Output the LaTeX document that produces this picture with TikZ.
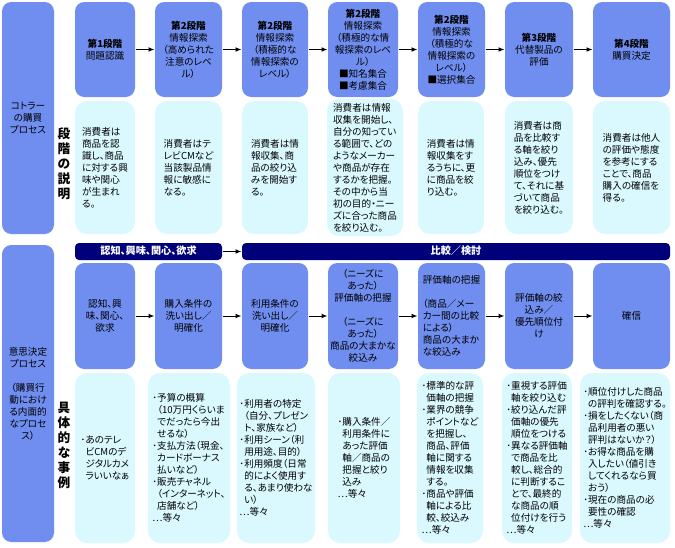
\documentclass[tikz,border=0pt]{standalone}
\usepackage{fontspec}
\setmainfont{Noto Sans CJK JP}[RawFeature=+palt]
\usetikzlibrary{arrows.meta}

\definecolor{stageblue}{RGB}{112,142,240}
\definecolor{desccyan}{RGB}{218,249,255}
\definecolor{bannernavy}{RGB}{0,0,122}

\newcommand\hangin{\hspace*{0.5em}}

\tikzset{every picture/.style={line width=0.75pt}}
\tikzset{
  cell/.style args={#1/#2/#3/#4}{at={({(#1+#3)/2},{(#2+#4)/2})}, minimum width={(#3-#1)*0.75pt}, minimum height={(#4-#2)*0.75pt}},
  stagebox/.style={fill=stageblue, draw=none, rounded corners=7pt, inner sep=0pt, align=center, font=\fontsize{7.2}{9}\selectfont},
  descbox/.style={fill=desccyan, draw=none, rounded corners=9pt, inner sep=0pt, align=left, font=\fontsize{7.2}{9}\selectfont},
  bannerbox/.style={fill=bannernavy, draw=none, rounded corners=3pt, inner sep=0pt, text=white, text height=6pt, text depth=1.4pt, font=\bfseries\fontsize{7.6}{9}\selectfont},
  sidelabel/.style={align=center, inner sep=0pt, font=\bfseries\fontsize{9.5}{11.25}\selectfont},
  flow/.style={-{Latex[length=4.5pt,width=3.6pt]}, line width=0.75pt},
}

\begin{document}
\begin{tikzpicture}[x=0.75pt,y=0.75pt,yscale=-1,xscale=1]
\useasboundingbox (0,0) rectangle (675,547);

%Side boxes
\node [stagebox, cell=2/2/54/234] (k1) {コトラー\\の購買\\プロセス};
\node [stagebox, cell=2/245/54/542] (k2) {意思決定\\プロセス\\[9pt]（購買行\\動におけ\\る内面的\\なプロセ\\ス）};

%Side labels
\node [sidelabel] (l1) at (64,164) {段\\階\\の\\説\\明};
\node [sidelabel] (l2) at (64,445) {具\\体\\的\\な\\事\\例};

%Stage boxes
\node [stagebox, cell=75/2/135/97] (s1) {\textbf{第1段階}\\問題認識};
\node [stagebox, cell=155/2/222/97] (s2) {\textbf{第2段階}\\情報探索\\（高められた\\注意のレベ\\ル）};
\node [stagebox, cell=242/2/308/97] (s3) {\textbf{第2段階}\\情報探索\\（積極的な\\情報探索の\\レベル）};
\node [stagebox, cell=328/2/398/97] (s4) {\textbf{第2段階}\\情報探索\\（積極的な情\\報探索のレベ\\ル）\\■知名集合\\■考慮集合};
\node [stagebox, cell=418/2/485/97] (s5) {\textbf{第2段階}\\情報探索\\（積極的な\\情報探索の\\レベル）\\■選択集合};
\node [stagebox, cell=505/2/573/97] (s6) {\textbf{第3段階}\\代替製品の\\評価};
\node [stagebox, cell=593/2/670/97] (s7) {\textbf{第4段階}\\購買決定};

\foreach \a/\b in {s1/s2,s2/s3,s3/s4,s4/s5,s5/s6,s6/s7}
  \draw [flow] (\a) -- (\b);

%Stage descriptions
\node [descbox, cell=75/101/135/234] (d1) {消費者は\\商品を認\\識し、商品\\に対する興\\味や関心\\が生まれ\\る。};
\node [descbox, cell=155/101/222/234] (d2) {消費者はテ\\レビCMなど\\当該製品情\\報に敏感に\\なる。};
\node [descbox, cell=242/101/308/234] (d3) {消費者は情\\報収集、商\\品の絞り込\\みを開始す\\る。};
\node [descbox, cell=327/99/403/236] (d4) {消費者は情報\\収集を開始し、\\自分の知ってい\\る範囲で、どの\\ようなメーカー\\や商品が存在\\するかを把握。\\その中から当\\初の目的・ニー\\ズに合った商品\\を絞り込む。};
\node [descbox, cell=418/101/484/234] (d5) {消費者は情\\報収集をす\\るうちに、更\\に商品を絞\\り込む。};
\node [descbox, cell=505/101/573/234] (d6) {消費者は商\\品を比較す\\る軸を絞り\\込み、優先\\順位をつけ\\て、それに基\\づいて商品\\を絞り込む。};
\node [descbox, cell=593/101/670/234] (d7) {消費者は他人\\の評価や態度\\を参考にする\\ことで、商品\\購入の確信を\\得る。};

%Banners
\node [bannerbox, cell=75/243/222/260] (b1) {認知、興味、関心、欲求};
\node [bannerbox, cell=242/243/670/260] (b2) {比較／検討};
\draw [flow] (b1) -- (b2);

%Decision boxes
\node [stagebox, cell=75/263/135/369] (q1) {認知、興\\味、関心、\\欲求};
\node [stagebox, cell=155/263/222/369] (q2) {購入条件の\\洗い出し／\\明確化};
\node [stagebox, cell=242/263/308/369] (q3) {利用条件の\\洗い出し／\\明確化};
\node [stagebox, cell=328/263/398/369] (q4) {（ニーズに\\あった）\\評価軸の把握\\[9pt]（ニーズに\\あった）\\商品の大まかな\\絞込み};
\node [stagebox, align=left, cell=418/263/485/369] (q5) {評価軸の把握\\[9pt]（商品／メー\\カー間の比較\\による）\\商品の大まか\\な絞込み};
\node [stagebox, cell=505/263/573/369] (q6) {評価軸の絞\\込み／\\優先順位付\\け};
\node [stagebox, cell=593/263/670/369] (q7) {確信};

\foreach \a/\b in {q1/q2,q2/q3,q3/q4,q4/q5,q5/q6,q6/q7}
  \draw [flow] (\a) -- (\b);

%Examples
\node [descbox, cell=75/373/135/543] (e1) {･あのテレ\\\hangin ビCMのデ\\\hangin ジタルカメ\\\hangin ラいいなぁ};
\node [descbox, cell=148/373/230/543] (e2) {･予算の概算\\\hangin （10万円くらいま\\\hangin でだったら今出\\\hangin せるな）\\･支払方法（現金、\\\hangin カードボーナス\\\hangin 払いなど）\\･販売チャネル\\\hangin （インターネット、\\\hangin 店舗など）\\…等々};
\node [descbox, cell=237/373/315/543] (e3) {･利用者の特定\\\hangin （自分、プレゼン\\\hangin ト、家族など）\\･利用シーン（利\\\hangin 用用途、目的）\\･利用頻度（日常\\\hangin 的によく使用す\\\hangin る、あまり使わな\\\hangin い）\\…等々};
\node [descbox, cell=328/373/400/543] (e4) {･購入条件／\\\hangin 利用条件に\\\hangin あった評価\\\hangin 軸／商品の\\\hangin 把握と絞り\\\hangin 込み\\…等々};
\node [descbox, cell=417/373/483/543] (e5) {･標準的な評\\\hangin 価軸の把握\\･業界の競争\\\hangin ポイントなど\\\hangin を把握し、\\\hangin 商品、評価\\\hangin 軸に関する\\\hangin 情報を収集\\\hangin する。\\･商品や評価\\\hangin 軸による比\\\hangin 較、絞込み\\…等々};
\node [descbox, cell=502/373/572/543] (e6) {･重視する評価\\\hangin 軸を絞り込む\\･絞り込んだ評\\\hangin 価軸の優先\\\hangin 順位をつける\\･異なる評価軸\\\hangin で商品を比\\\hangin 較し、総合的\\\hangin に判断するこ\\\hangin とで、最終的\\\hangin な商品の順\\\hangin 位付けを行う\\…等々};
\node [descbox, cell=580/373/670/543] (e7) {･順位付けした商品\\\hangin の評判を確認する。\\･損をしたくない（商\\\hangin 品利用者の悪い\\\hangin 評判はないか？）\\･お得な商品を購\\\hangin 入したい（値引き\\\hangin してくれるなら買\\\hangin おう）\\･現在の商品の必\\\hangin 要性の確認\\…等々};

\end{tikzpicture}
\end{document}
